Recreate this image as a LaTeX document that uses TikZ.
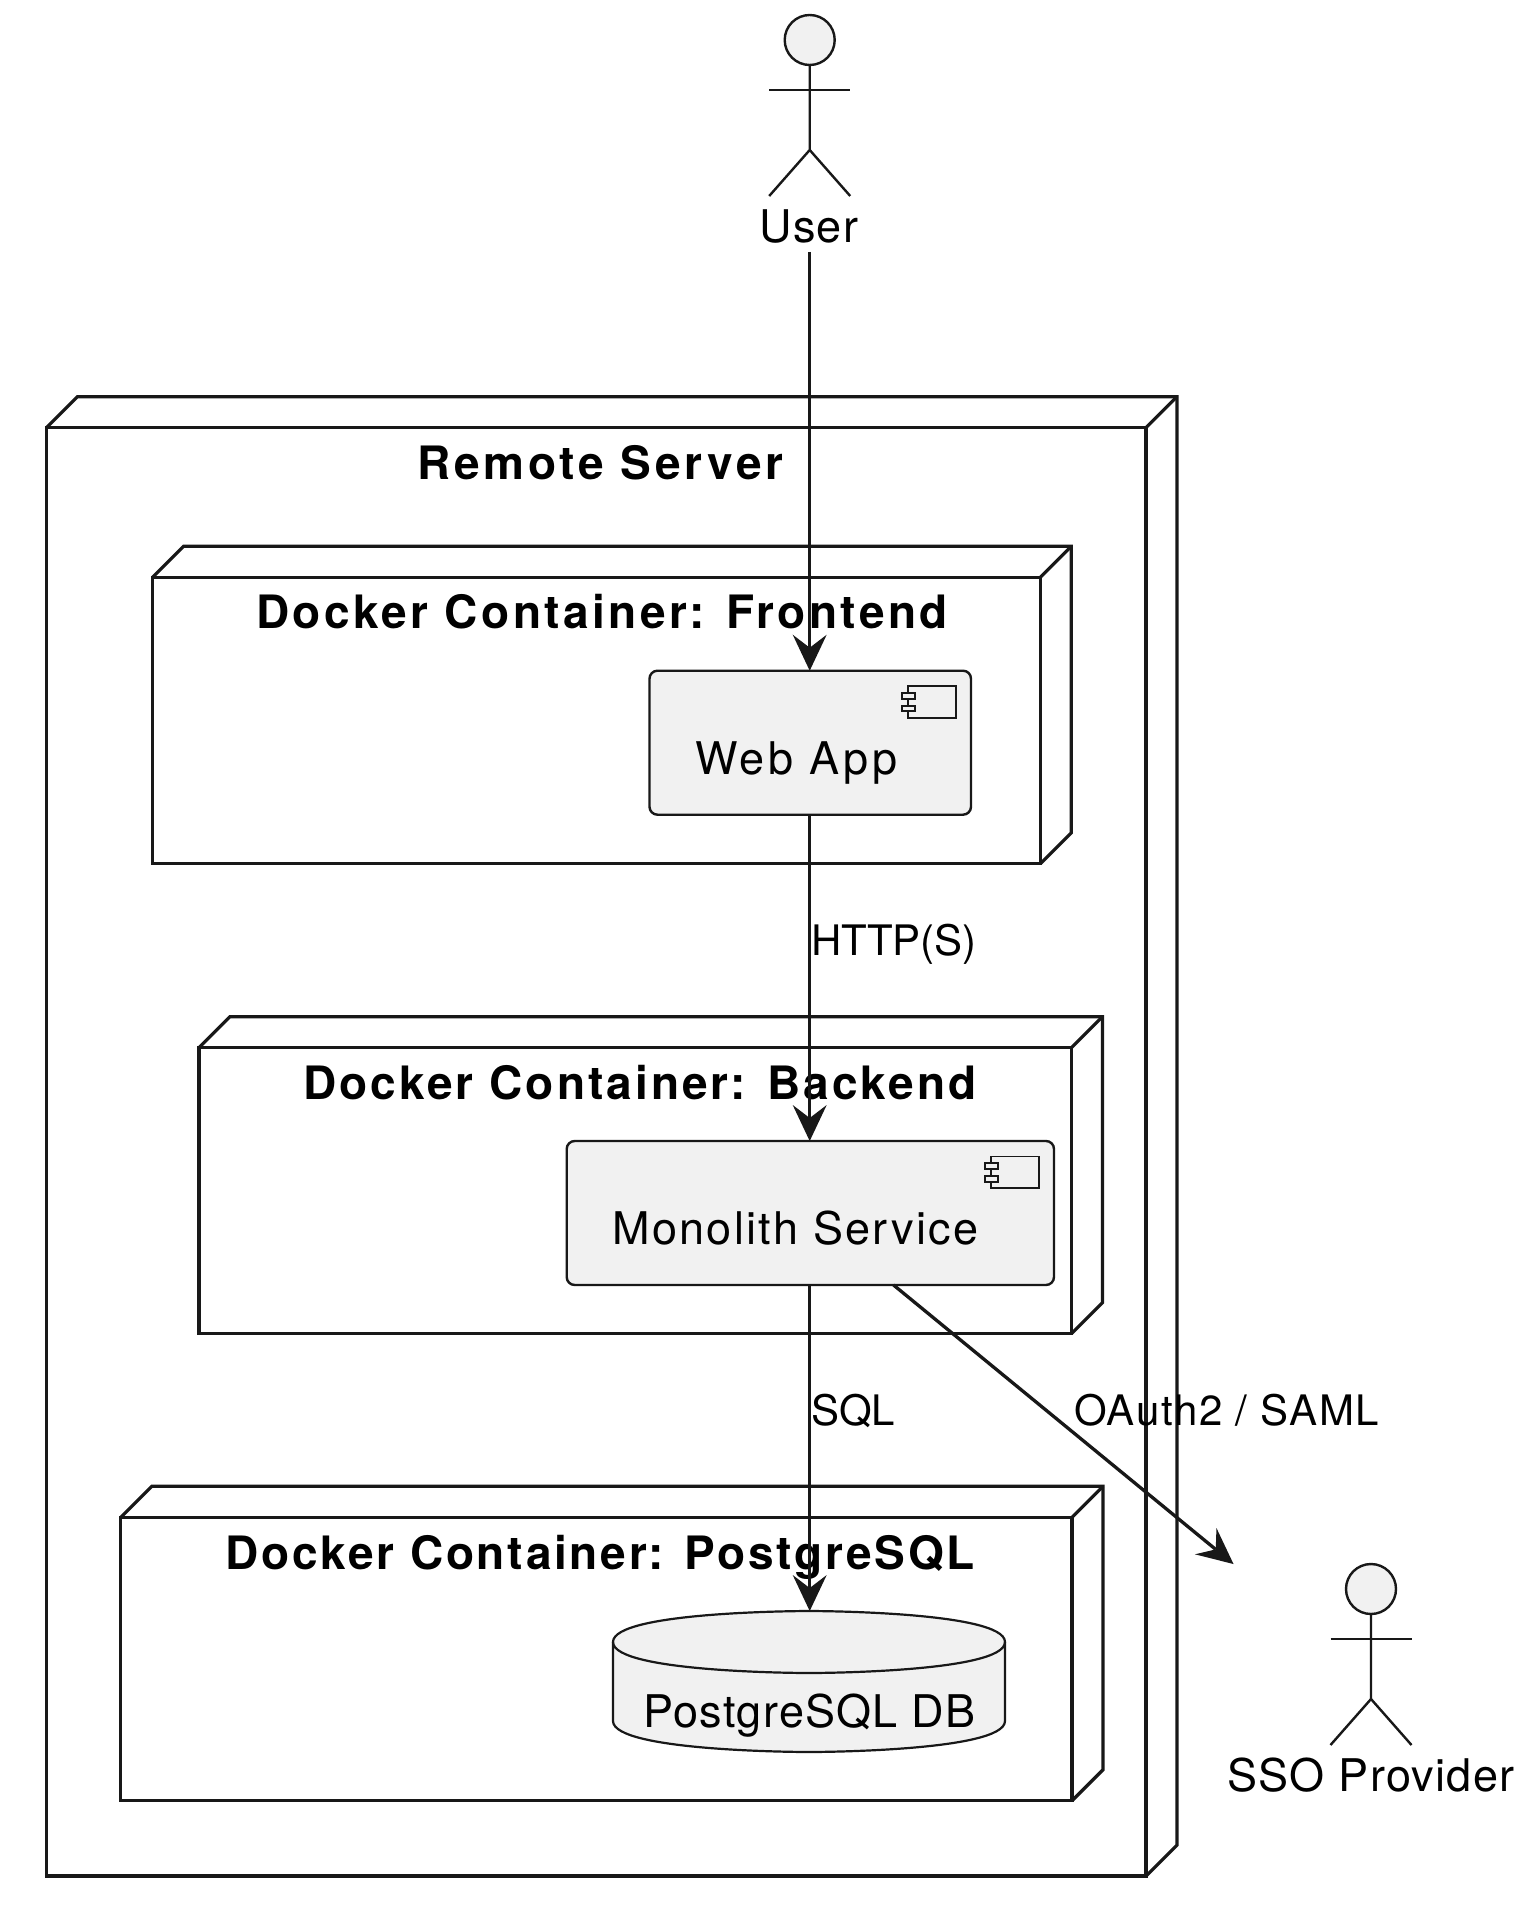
\documentclass[tikz,border=0pt]{standalone}
\usepackage{fontspec}
\setmainfont{TeX Gyre Heros}
\usetikzlibrary{arrows.meta,calc}
\definecolor{ink}{HTML}{181818}
\definecolor{boxfill}{HTML}{F1F1F1}
\newcommand\lsp[1]{\addfontfeature{LetterSpace=#1}}
\tikzset{
  cuboid/.style={draw=ink,line width=3.2pt,rectangle,inner sep=0pt,outer sep=0pt,line join=miter},
  cuboidline/.style={draw=ink,line width=3.2pt,line join=miter},
  compbox/.style={draw=ink,fill=boxfill,line width=2.4pt,rounded corners=8pt,inner sep=0pt,outer sep=0pt},
  iconpart/.style={draw=ink,fill=boxfill,line width=1.8pt},
  actorline/.style={draw=ink,line width=2.4pt},
  dbline/.style={draw=ink,fill=boxfill,line width=2.2pt},
  titletext/.style={font=\fontsize{46}{50}\selectfont\bfseries,anchor=base west,inner sep=0pt,text=black},
  nametext/.style={font=\fontsize{45}{50}\selectfont,anchor=base west,inner sep=0pt,text=black},
  edgetext/.style={font=\fontsize{42}{50}\selectfont,anchor=base west,inner sep=0pt,text=black},
  link/.style={draw=ink,line width=3.3pt,-{Stealth[length=36pt,width=34pt,inset=13pt,line width=0pt]}},
}
% name, x1, y1, x2, y2, depth
\newcommand\cuboidbox[6]{%
  \node[cuboid,minimum width={(#4-#2)*1pt},minimum height={(#5-#3)*1pt}] (#1) at ({(#2+#4)/2},{(#3+#5)/2}) {};
  \draw[cuboidline] (#1.north west) -- ++(#6,-#6) -- ($(#1.north east)+(#6,-#6)$) -- ($(#1.south east)+(#6,-#6)$) -- (#1.south east);
  \draw[cuboidline] (#1.north east) -- ++(#6,-#6);
}
% name, cx, top
\newcommand\actorfig[3]{%
  \node[actorline,fill=boxfill,circle,inner sep=0pt,outer sep=0pt,minimum size=50pt] (#1) at (#2,#3+25) {};
  \draw[actorline] (#1.south) -- ++(0,85) -- ++(-40.5,46);
  \draw[actorline] (#1.south) ++(0,85) -- ++(40.5,46);
  \draw[actorline] (#1.south) ++(-40.5,25) -- ++(81,0);
}
% name, x1, y1, x2, y2
\newcommand\compbox[5]{%
  \node[compbox,minimum width={(#4-#2)*1pt},minimum height={(#5-#3)*1pt}] (#1) at ({(#2+#4)/2},{(#3+#5)/2}) {};
  \draw[iconpart] ($(#1.north east)+(-62.7,15.5)$) rectangle ++(47.3,31.7);
  \draw[iconpart] ($(#1.north east)+(-69,22)$) rectangle ++(13.3,6.3);
  \draw[iconpart] ($(#1.north east)+(-69,35)$) rectangle ++(13.3,5.6);
}
\begin{document}
\begin{tikzpicture}[x=1pt,y=-1pt]
\useasboundingbox (0,0) rectangle (1530,1926);
\fill[white] (0,0) rectangle (1530,1926);

\cuboidbox{remote}{46.5}{427.7}{1146}{1876}{31}
\cuboidbox{front}{152.5}{577.3}{1040.3}{863.7}{31}
\cuboidbox{back}{199}{1047.7}{1071.5}{1333.7}{31}
\cuboidbox{pg}{120.7}{1517.3}{1072}{1800.7}{31}

\node[titletext] (remotetitle) at (417,479.3) {\lsp{8.3}Remote Server};
\node[titletext] (fronttitle) at (256,628.7) {\lsp{7.4}Docker Container: Frontend};
\node[titletext] (backtitle) at (303,1099.3) {\lsp{6.6}Docker Container: Backend};
\node[titletext] (pgtitle) at (225,1569.3) {\lsp{6}Docker Container: PostgreSQL};

\actorfig{user}{809.7}{15}
\actorfig{sso}{1371}{1564}
\node[nametext] (userlabel) at (759,242.5) {\lsp{3}User};
\node[nametext] (ssolabel) at (1227,1791.5) {\lsp{3}SSO Provider};

\compbox{web}{649.5}{670.7}{971}{814.7}
\node[nametext] (weblabel) at (695,774.5) {\lsp{8.2}Web App};
\compbox{mono}{566.7}{1141}{1054}{1285}
\node[nametext] (monolabel) at (612,1244.5) {\lsp{5.2}Monolith Service};

\node[inner sep=0pt,outer sep=0pt,minimum width=392pt,minimum height=141pt] (db) at (809,1681.5) {};
\draw[dbline] (613,1642) .. controls (613,1611) and (809,1611) .. (809,1611)
  .. controls (809,1611) and (1005,1611) .. (1005,1642)
  -- (1005,1721) .. controls (1005,1752) and (809,1752) .. (809,1752)
  .. controls (809,1752) and (613,1752) .. (613,1721) -- cycle;
\draw[dbline,fill=none] (613,1642) .. controls (613,1673) and (809,1673) .. (809,1673)
  .. controls (809,1673) and (1005,1673) .. (1005,1642);
\node[nametext] (dblabel) at (643,1727) {\lsp{2.8}PostgreSQL DB};

\node[edgetext] (httplabel) at (811,955.5) {HTTP(S)};
\node[edgetext] (sqllabel) at (811,1425.5) {SQL};
\node[edgetext] (oauthlabel) at (1074,1425.5) {\lsp{3.8}OAuth2 / SAML};

\coordinate (userend) at (809.7,252);
\coordinate (monooff) at (893.5,1285);
\coordinate (ssoend) at (1233.5,1564);
\draw[link] (userend) -- (web.north -| userend);
\draw[link] (web.south -| userend) -- (mono.north -| userend);
\draw[link] (mono.south -| userend) -- (db.north -| userend);
\draw[link] (monooff) -- (ssoend);
\end{tikzpicture}
\end{document}
